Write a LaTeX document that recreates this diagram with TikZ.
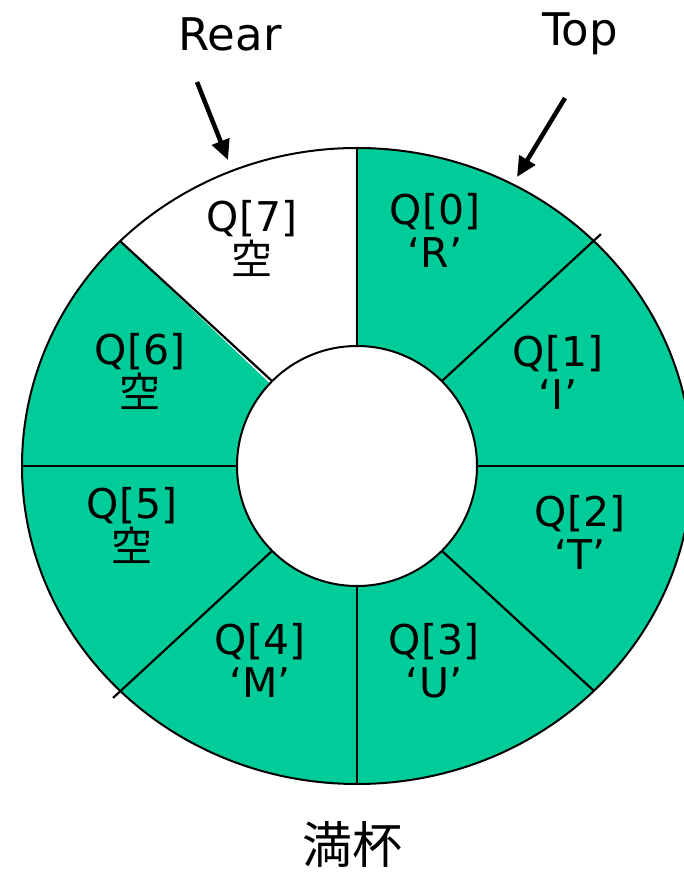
\documentclass[tikz,border=0pt]{standalone}
\usepackage{fontspec}
\setmainfont{DejaVu Sans}
\newfontfamily\cjk{Noto Sans CJK JP}
\usetikzlibrary{arrows.meta}
\definecolor{slotgreen}{RGB}{0,204,153}

\begin{document}
\begin{tikzpicture}[x=1pt, y=1pt, font=\fontsize{41}{43}\selectfont,
  slot/.style={align=center},
  pointer/.style={line width=4.5pt, -{Triangle[length=20pt, width=18pt]}}]
\useasboundingbox (-357,-406) rectangle (327,466);
% ring, Q[7] left empty
\fill[slotgreen] (0,0) ellipse [x radius=335, y radius=318];
\fill[white] (0,0) -- (0,318) arc[start angle=90, end angle=135, x radius=335, y radius=318] -- cycle;
\foreach \a/\rx/\ry in {0/335/318, 45/345/328, 90/335/318, 135/335/318, 180/335/318, 225/345/328, 270/335/318, 315/335/318}
  \draw[line width=2.2pt] (\a:120) -- ({\rx*cos(\a)},{\ry*sin(\a)});
\draw[line width=2pt] (0,0) ellipse [x radius=335, y radius=318];
\draw[line width=2pt, fill=white] (0,0) circle [radius=120];
% slots
\node[slot] (q0) at (78,236) {Q[0]\\‘R’};
\node[slot] (q1) at (201,94) {Q[1]\\‘I’};
\node[slot] (q2) at (223,-66) {Q[2]\\‘T’};
\node[slot] (q3) at (77,-195) {Q[3]\\‘U’};
\node[slot] (q4) at (-97,-194) {Q[4]\\‘M’};
\node[slot] (q5) at (-225,-59) {Q[5]\\{\cjk 空}};
\node[slot] (q6) at (-217,95) {Q[6]\\{\cjk 空}};
\node[slot] (q7) at (-105,228) {Q[7]\\{\cjk 空}};
% pointers
\node[font=\fontsize{45}{47}\selectfont] (rear) at (-127,432) {Rear};
\node[font=\fontsize{45}{47}\selectfont] (top) at (223,432) {Top};
\coordinate (rearTail) at (-160,384);
\coordinate (rearTip) at (-129,306);
\coordinate (topTail) at (208,368);
\coordinate (topTip) at (160,289);
\draw[pointer] (rearTail) -- (rearTip);
\draw[pointer] (topTail) -- (topTip);
\node[font=\cjk\fontsize{50}{52}\selectfont] (full) at (-5,-378) {満杯};
\end{tikzpicture}
\end{document}
